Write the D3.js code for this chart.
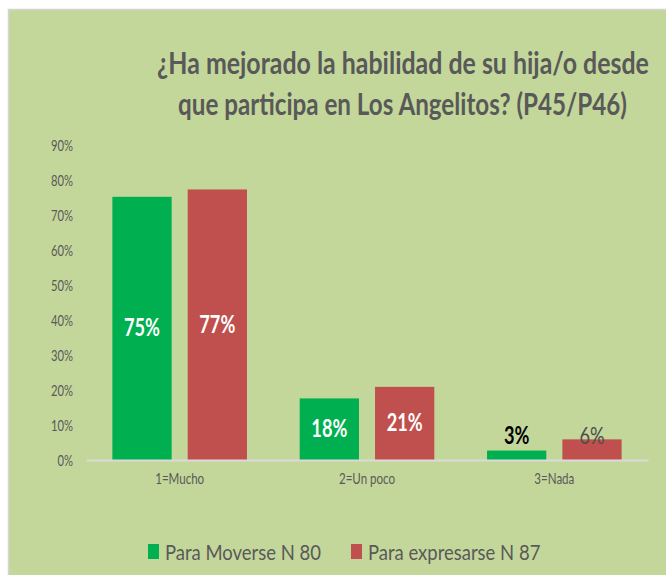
<!DOCTYPE html>
<html>
<head>
<meta charset="utf-8">
<script src="https://cdn.jsdelivr.net/npm/d3@7"></script>
<style>
  html, body { margin: 0; padding: 0; background: #ffffff; }
  svg { display: block; }
  text { font-family: Lato, "Liberation Sans", sans-serif; }
</style>
</head>
<body>
<svg id="chart" width="666" height="575"></svg>
<script>
// data
let categories = ["1=Mucho", "2=Un poco", "3=Nada"];
let seriesNames = ["Para Moverse N 80", "Para expresarse N 87"];
let moverse = [0.752, 0.176, 0.027];
let expresarse = [0.773, 0.209, 0.059];
let yTicks = [0, 0.1, 0.2, 0.3, 0.4, 0.5, 0.6, 0.7, 0.8, 0.9];
let titleLines = ["¿Ha mejorado la habilidad de su hija/o desde", "que participa en Los Angelitos? (P45/P46)"];
let colors = ["#00b050", "#c0504d"];

let svg = d3.select("#chart");

// squeeze text horizontally (the original font is a narrow one)
function squeeze(sel, factor) {
    sel.each(function () {
        let len = this.getComputedTextLength();
        d3.select(this)
            .attr("textLength", len * factor)
            .attr("lengthAdjust", "spacingAndGlyphs");
    });
}
function widthOf(str, size, weight) {
    let t = svg.append("text").attr("font-size", size).attr("font-weight", weight).text(str);
    let w = t.node().getComputedTextLength();
    t.remove();
    return w;
}

// panel background
svg.append("rect")
    .attr("x", 8.5).attr("y", 9.5)
    .attr("width", 670).attr("height", 580)
    .attr("fill", "#c4d79b")
    .attr("stroke", "#d4d4d4")
    .attr("stroke-width", 1.5);

// title, scaled to the width it has in the picture
let titleW = [492, 449];
let titleX = [403, 402.5];
titleLines.forEach(function (t, i) {
    let f = titleW[i] / widthOf(t, 31, "bold");
    svg.append("text")
        .attr("transform", "translate(" + titleX[i] + "," + (74 + i * 41) + ") scale(" + f + ",1)")
        .attr("text-anchor", "middle")
        .attr("font-size", 31)
        .attr("font-weight", "bold")
        .attr("fill", "#595959")
        .text(t);
});

// scales
let x0 = d3.scaleBand(categories, [86, 648]);
let x1 = d3.scaleBand([0, 1], [0, x0.bandwidth()]).paddingInner(0.213).paddingOuter(0.35);
let y = d3.scaleLinear([0, 0.9], [460, 145]);

// y axis labels (no line)
let yAxis = svg.append("g")
    .attr("transform", "translate(86,0)")
    .call(d3.axisLeft(y).tickValues(yTicks).tickFormat(d3.format(".0%")).tickSize(0).tickPadding(13));
yAxis.select(".domain").remove();
yAxis.selectAll("text")
    .attr("font-family", null)
    .attr("font-size", 14.5)
    .attr("dy", "0.35em")
    .attr("fill", "#595959");
squeeze(yAxis.selectAll("text"), 22 / widthOf("90%", 14.5, "normal"));

// bars
let rows = categories.map(function (c, i) {
    return [{cat: c, s: 0, v: moverse[i]}, {cat: c, s: 1, v: expresarse[i]}];
});

let groups = svg.selectAll(".grp")
    .data(rows)
    .join("g")
    .attr("class", "grp")
    .attr("transform", function (d) { return "translate(" + x0(d[0].cat) + ",0)"; });

groups.selectAll("rect")
    .data(function (d) { return d; })
    .join("rect")
    .attr("x", function (d) { return x1(d.s); })
    .attr("y", function (d) { return y(d.v); })
    .attr("width", x1.bandwidth())
    .attr("height", function (d) { return y(0) - y(d.v); })
    .attr("fill", function (d) { return colors[d.s]; });

// value labels
let vals = groups.selectAll("text.val")
    .data(function (d) { return d; })
    .join("text")
    .attr("class", "val")
    .attr("x", function (d) { return x1(d.s) + x1.bandwidth() / 2; })
    .attr("y", function (d) {
        if (d.v < 0.1) return d.s === 0 ? y(d.v) - 7 : y(d.v) + 5;
        return (y(d.v) + y(0)) / 2 + 8;
    })
    .attr("text-anchor", "middle")
    .attr("font-size", 24)
    .attr("font-weight", function (d) { return (d.v < 0.1 && d.s === 1) ? "normal" : "bold"; })
    .attr("fill", function (d) {
        if (d.v >= 0.1) return "#ffffff";
        return d.s === 0 ? "#000000" : "#4d4d4d";
    })
    .text(function (d) { return Math.round(d.v * 100) + "%"; });
squeeze(vals, 36 / widthOf("75%", 24, "bold"));

// x axis baseline and labels
let xAxis = svg.append("g")
    .attr("transform", "translate(0,460)")
    .call(d3.axisBottom(x0).tickSize(0).tickPadding(13));
xAxis.select(".domain")
    .attr("stroke", "#d9d9d9")
    .attr("stroke-width", 2);
xAxis.selectAll("text")
    .attr("font-family", null)
    .attr("font-size", 15)
    .attr("fill", "#595959");
squeeze(xAxis.selectAll("text"), 40 / widthOf("3=Nada", 15, "normal"));

// legend
let legendX = [148, 351];
let legendText = [];
seriesNames.forEach(function (n, i) {
    svg.append("rect")
        .attr("x", legendX[i]).attr("y", 544)
        .attr("width", 11).attr("height", 15)
        .attr("fill", colors[i]);
    legendText.push(svg.append("text")
        .attr("x", legendX[i] + 17)
        .attr("y", 560)
        .attr("font-size", 21)
        .attr("fill", "#595959")
        .text(n).node());
});
squeeze(d3.selectAll(legendText), 156 / widthOf(seriesNames[0], 21, "normal"));
</script>
</body>
</html>
